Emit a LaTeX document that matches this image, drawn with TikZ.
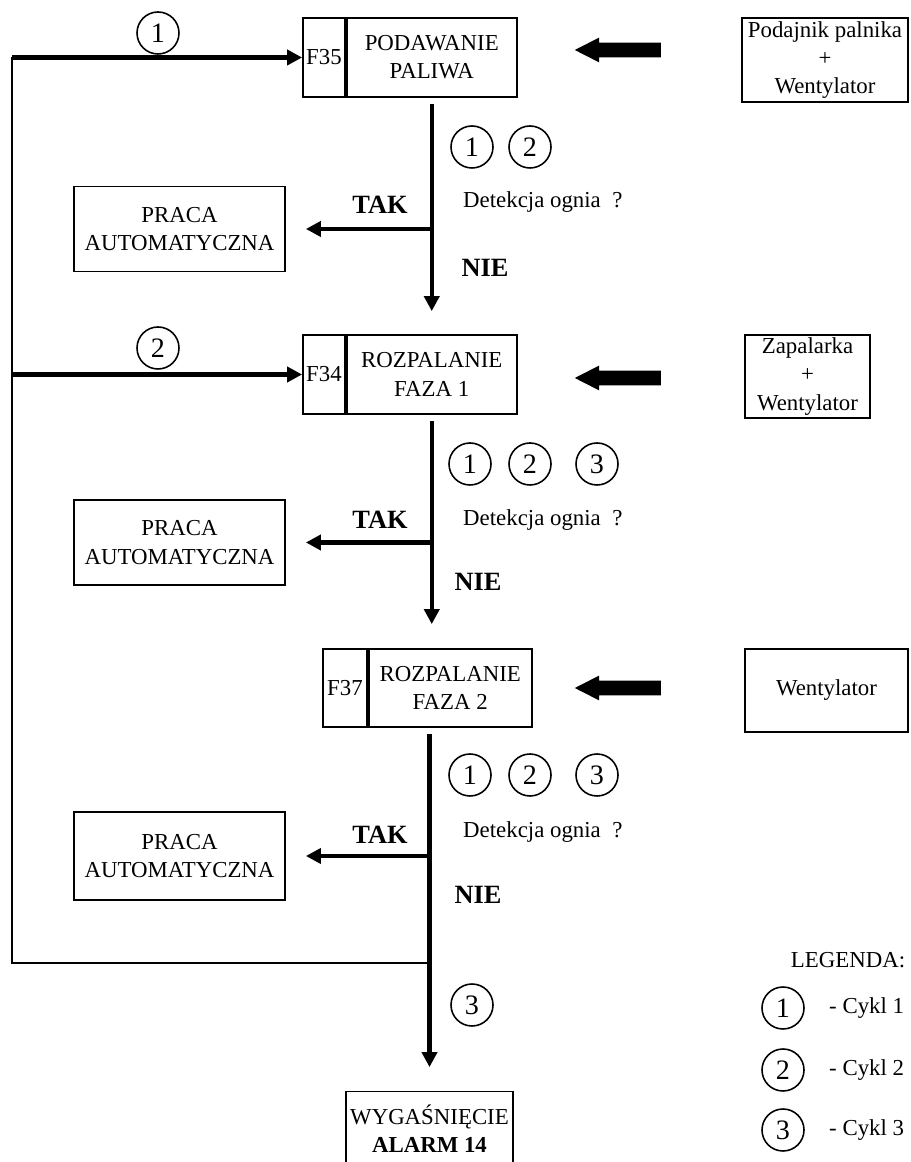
\documentclass[tikz,border=0pt]{standalone}
\usepackage{fontspec}
\setmainfont{Liberation Serif}
\usetikzlibrary{arrows.meta,positioning,shapes.arrows}

\begin{document}
\begin{tikzpicture}[
	box/.style={draw, line width=1pt, align=center, inner sep=1pt, font=\fontsize{13}{16}\selectfont},
	fcell/.style={box, minimum width=0.84cm, minimum height=1.58cm},
	mcell/.style={box, minimum width=3.4cm, minimum height=1.58cm},
	autobox/.style={box, minimum width=4.22cm, minimum height=1.7cm},
	cyc/.style={circle, draw, line width=0.9pt, minimum size=0.84cm, inner sep=0pt, font=\fontsize{16}{16}\selectfont},
	feed/.style={single arrow, fill=black, shape border rotate=180, minimum height=1.72cm, inner xsep=0pt, inner ysep=0.14cm, single arrow head extend=0.1cm, single arrow tip angle=54},
	flow/.style={line width=2.3pt, -{Triangle[length=0.3cm, width=0.3cm]}},
	loopline/.style={line width=1.2pt},
	ans/.style={font=\fontsize{15}{15}\selectfont\bfseries},
	ask/.style={font=\fontsize{13}{13}\selectfont, anchor=west}
	]
	\useasboundingbox (0,0) rectangle (18.2,23.24);
	
	% Step 1 - fuel feeding
	\node[fcell] (f35) at (6.48,22.09) {F35};
	\node[mcell, right=0pt of f35] (pal) {PODAWANIE\\PALIWA};
	\node[box, minimum width=3.32cm, minimum height=1.68cm] (podajnik) at (16.5,22.04) {Podajnik palnika\\+\\Wentylator};
	\node[feed] (fd1) at (12.5,22.24) {};
	\node[cyc] (in1) at (3.16,22.58) {1};
	\node[cyc] (a1) at (9.44,20.3) {1};
	\node[cyc] (a2) at (10.6,20.3) {2};
	\node[ask] (q1) at (9.14,19.2) {Detekcja ognia \ ?};
	\node[ans] (tak1) at (7.6,19.14) {TAK};
	\node[ans] (nie1) at (9.7,17.88) {NIE};
	\node[autobox] (auto1) at (3.59,18.66) {PRACA\\AUTOMATYCZNA};
	
	% Step 2 - ignition phase 1
	\node[fcell] (f34) at (6.48,15.75) {F34};
	\node[mcell, right=0pt of f34] (roz1) {ROZPALANIE\\FAZA 1};
	\node[box, minimum width=2.5cm, minimum height=1.66cm] (zapal) at (16.15,15.71) {Zapalarka\\+\\Wentylator};
	\node[feed] (fd2) at (12.5,15.68) {};
	\node[cyc] (in2) at (3.16,16.28) {2};
	\node[cyc] (b1) at (9.4,13.96) {1};
	\node[cyc] (b2) at (10.6,13.96) {2};
	\node[cyc] (b3) at (11.94,13.96) {3};
	\node[ask] (q2) at (9.14,12.84) {Detekcja ognia \ ?};
	\node[ans] (tak2) at (7.6,12.84) {TAK};
	\node[ans] (nie2) at (9.56,11.6) {NIE};
	\node[autobox] (auto2) at (3.59,12.39) {PRACA\\AUTOMATYCZNA};
	
	% Step 3 - ignition phase 2
	\node[fcell, minimum width=0.88cm, minimum height=1.56cm] (f37) at (6.9,9.48) {F37};
	\node[mcell, minimum width=3.26cm, minimum height=1.56cm, right=0pt of f37] (roz2) {ROZPALANIE\\FAZA 2};
	\node[box, minimum width=3.26cm, minimum height=1.66cm] (went) at (16.53,9.43) {Wentylator};
	\node[feed] (fd3) at (12.5,9.48) {};
	\node[cyc] (c1) at (9.4,7.74) {1};
	\node[cyc] (c2) at (10.6,7.74) {2};
	\node[cyc] (c3) at (11.94,7.74) {3};
	\node[ask] (q3) at (9.14,6.6) {Detekcja ognia \ ?};
	\node[ans] (tak3) at (7.6,6.54) {TAK};
	\node[ans] (nie3) at (9.56,5.34) {NIE};
	\node[autobox, minimum height=1.76cm] (auto3) at (3.59,6.12) {PRACA\\AUTOMATYCZNA};
	
	% Alarm
	\node[cyc] (d3) at (9.44,3.14) {3};
	\node[box, minimum width=3.34cm, minimum height=1.5cm] (wyg) at (8.59,0.66) {WYGAŚNIĘCIE\\\textbf{ALARM 14}};
	
	% Loop back
	\coordinate (lt) at (0.24,22.09);
	\coordinate (lb) at (0.24,3.98);
	\draw[loopline] (lt) -- (lb) -- (lb -| wyg.north);
	\draw[flow] (lt) -- (f35.west);
	\draw[flow] (lt |- f34.west) -- (f34.west);
	
	% Main flow
	\draw[flow, shorten >=0.46cm] ([yshift=-0.12cm]pal.south) -- (roz1.north);
	\draw[flow, shorten >=0.48cm] ([yshift=-0.12cm]roz1.south) -- (roz1.south |- f37.north);
	\draw[flow, shorten >=0.47cm] ([yshift=-0.12cm]f37.south -| wyg.north) -- (wyg.north);
	
	% TAK branches
	\draw[flow, shorten >=0.4cm] (pal.south |- auto1.east) -- (auto1.east);
	\draw[flow, shorten >=0.4cm] (roz1.south |- auto2.east) -- (auto2.east);
	\draw[flow, shorten >=0.4cm] (wyg.north |- auto3.east) -- (auto3.east);
	
	% Legend
	\node[font=\fontsize{13}{13}\selectfont] (leg) at (16.96,4.04) {LEGENDA:};
	\node[cyc] (lg1) at (15.66,3.08) {1};
	\node[cyc] (lg2) at (15.66,1.84) {2};
	\node[cyc] (lg3) at (15.66,0.64) {3};
	\node[ask] (lt1) at (16.46,3.08) {- Cykl 1};
	\node[ask] (lt2) at (16.46,1.84) {- Cykl 2};
	\node[ask] (lt3) at (16.46,0.64) {- Cykl 3};
\end{tikzpicture}
\end{document}
